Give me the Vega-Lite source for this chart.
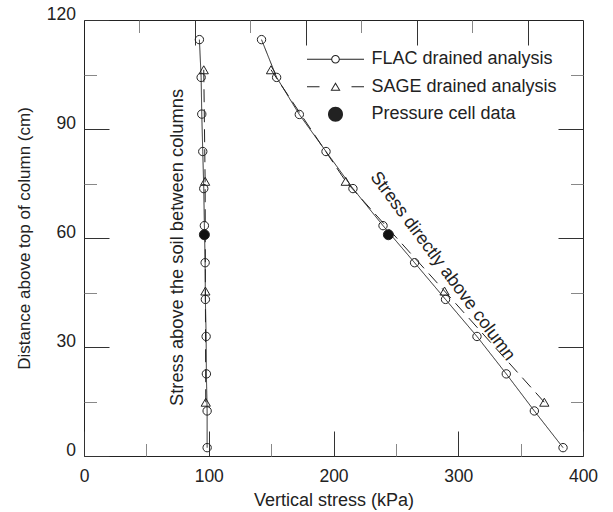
{
  "$schema": "https://vega.github.io/schema/vega-lite/v6.json",
  "width": 499,
  "height": 436,
  "autosize": {"type": "none"},
  "padding": {"left": 84, "top": 20, "right": 30, "bottom": 56},
  "background": "white",
  "datasets": {
    "stress": [
      {"series": "FLAC drained analysis", "location": "between", "stress": 92.5, "distance": 114.6},
      {"series": "FLAC drained analysis", "location": "between", "stress": 93.9, "distance": 104.2},
      {"series": "FLAC drained analysis", "location": "between", "stress": 94.4, "distance": 94.1},
      {"series": "FLAC drained analysis", "location": "between", "stress": 95.2, "distance": 83.8},
      {"series": "FLAC drained analysis", "location": "between", "stress": 96.0, "distance": 73.6},
      {"series": "FLAC drained analysis", "location": "between", "stress": 96.5, "distance": 63.4},
      {"series": "FLAC drained analysis", "location": "between", "stress": 97.1, "distance": 53.2},
      {"series": "FLAC drained analysis", "location": "between", "stress": 97.3, "distance": 43.1},
      {"series": "FLAC drained analysis", "location": "between", "stress": 97.9, "distance": 32.9},
      {"series": "FLAC drained analysis", "location": "between", "stress": 98.1, "distance": 22.6},
      {"series": "FLAC drained analysis", "location": "between", "stress": 98.7, "distance": 12.4},
      {"series": "FLAC drained analysis", "location": "between", "stress": 98.7, "distance": 2.3},
      {"series": "SAGE drained analysis", "location": "between", "stress": 96.0, "distance": 106.3},
      {"series": "SAGE drained analysis", "location": "between", "stress": 97.1, "distance": 75.6},
      {"series": "SAGE drained analysis", "location": "between", "stress": 97.3, "distance": 45.4},
      {"series": "SAGE drained analysis", "location": "between", "stress": 97.6, "distance": 14.8},
      {"series": "FLAC drained analysis", "location": "above", "stress": 142.3, "distance": 114.6},
      {"series": "FLAC drained analysis", "location": "above", "stress": 154.4, "distance": 104.2},
      {"series": "FLAC drained analysis", "location": "above", "stress": 172.6, "distance": 94.0},
      {"series": "FLAC drained analysis", "location": "above", "stress": 194.0, "distance": 83.8},
      {"series": "FLAC drained analysis", "location": "above", "stress": 215.6, "distance": 73.6},
      {"series": "FLAC drained analysis", "location": "above", "stress": 239.7, "distance": 63.4},
      {"series": "FLAC drained analysis", "location": "above", "stress": 265.0, "distance": 53.2},
      {"series": "FLAC drained analysis", "location": "above", "stress": 289.8, "distance": 43.1},
      {"series": "FLAC drained analysis", "location": "above", "stress": 315.0, "distance": 32.9},
      {"series": "FLAC drained analysis", "location": "above", "stress": 338.5, "distance": 22.6},
      {"series": "FLAC drained analysis", "location": "above", "stress": 361.0, "distance": 12.4},
      {"series": "FLAC drained analysis", "location": "above", "stress": 384.0, "distance": 2.3},
      {"series": "SAGE drained analysis", "location": "above", "stress": 149.9, "distance": 106.3},
      {"series": "SAGE drained analysis", "location": "above", "stress": 209.8, "distance": 75.6},
      {"series": "SAGE drained analysis", "location": "above", "stress": 289.0, "distance": 45.4},
      {"series": "SAGE drained analysis", "location": "above", "stress": 369.0, "distance": 14.8},
      {"series": "Pressure cell data", "location": "between", "stress": 96.5, "distance": 60.9},
      {"series": "Pressure cell data", "location": "above", "stress": 244.0, "distance": 60.9}
    ],
    "notes": [
      {"kind": "soil", "note": "Stress above the soil between columns", "stress": 75.4, "distance": 57.4},
      {"kind": "column", "note": "Stress directly above column", "stress": 287.2, "distance": 52.2}
    ]
  },
  "resolve": {
    "axis": {"x": "independent", "y": "independent"},
    "scale": {"shape": "independent"}
  },
  "layer": [
    {
      "data": {"name": "stress"},
      "transform": [{"filter": "datum.series !== 'Pressure cell data'"}],
      "mark": {"type": "line", "stroke": "#222", "strokeWidth": 1},
      "encoding": {
        "x": {
          "field": "stress", "type": "quantitative",
          "scale": {"domain": [0, 400], "nice": false},
          "axis": {
            "orient": "bottom",
            "title": "Vertical stress (kPa)",
            "values": [0, 50, 100, 150, 200, 250, 300, 350, 400],
            "labelExpr": "datum.value % 100 === 0 ? datum.label : ''",
            "labelFlush": false, "labelOverlap": false,
            "tickSize": -25, "labelPadding": 36,
            "titlePadding": 7,
            "tickDash": {"condition": {"test": "datum.value % 100 !== 0", "value": [12.5, 40]}, "value": []},
            "tickColor": {"condition": {"test": "datum.value % 100 === 0", "value": "#333"}, "value": "#888"}
          }
        },
        "y": {
          "field": "distance", "type": "quantitative",
          "scale": {"domain": [0, 120], "nice": false},
          "axis": {
            "orient": "left",
            "title": "Distance above top of column (cm)",
            "values": [0, 15, 30, 45, 60, 75, 90, 105, 120],
            "labelExpr": "datum.value % 30 === 0 ? datum.label : ''",
            "labelFlush": false, "labelOverlap": false,
            "labelBaseline": "alphabetic", "labelOffset": -1,
            "tickSize": -25, "labelPadding": 33.5,
            "titleFontSize": 17,
            "titleX": -60, "titleY": 218, "titleAngle": 270,
            "titleAlign": "center", "titleBaseline": "middle",
            "tickDash": {"condition": {"test": "datum.value % 30 !== 0", "value": [12.5, 40]}, "value": []},
            "tickColor": {"condition": {"test": "datum.value % 30 === 0", "value": "#333"}, "value": "#888"}
          }
        },
        "strokeDash": {
          "field": "series", "type": "nominal",
          "scale": {"domain": ["FLAC drained analysis", "SAGE drained analysis"], "range": [[1, 0], [13, 7]]},
          "legend": null
        },
        "detail": {"field": "location"},
        "order": {"field": "distance", "type": "quantitative"}
      }
    },
    {
      "data": {"name": "stress"},
      "mark": {"type": "point", "stroke": "#222", "strokeWidth": 1, "opacity": 1},
      "encoding": {
        "x": {
          "field": "stress", "type": "quantitative",
          "scale": {"domain": [0, 400], "nice": false},
          "axis": {
            "orient": "top", "title": null, "labels": false,
            "values": [44.444, 88.889, 133.333, 177.778, 222.222, 266.667, 311.111, 355.556],
            "tickSize": -25,
            "tickDash": {"condition": {"test": "round(datum.value * 9 / 400) % 2 === 1", "value": [12.5, 40]}, "value": []},
            "tickColor": {"condition": {"test": "round(datum.value * 9 / 400) % 2 === 0", "value": "#333"}, "value": "#888"}
          }
        },
        "y": {
          "field": "distance", "type": "quantitative",
          "scale": {"domain": [0, 120], "nice": false},
          "axis": {
            "orient": "right", "title": null, "labels": false,
            "values": [15, 30, 45, 60, 75, 90, 105],
            "tickSize": -25,
            "tickDash": {"condition": {"test": "datum.value % 30 !== 0", "value": [12.5, 40]}, "value": []},
            "tickColor": {"condition": {"test": "datum.value % 30 === 0", "value": "#333"}, "value": "#888"}
          }
        },
        "shape": {
          "field": "series", "type": "nominal",
          "scale": {"domain": ["FLAC drained analysis", "SAGE drained analysis", "Pressure cell data"], "range": ["circle", "triangle-up", "circle"]},
          "legend": null
        },
        "fill": {
          "field": "series", "type": "nominal",
          "scale": {"domain": ["FLAC drained analysis", "SAGE drained analysis", "Pressure cell data"], "range": ["transparent", "transparent", "#111"]},
          "legend": null
        },
        "size": {
          "field": "series", "type": "nominal",
          "scale": {"domain": ["FLAC drained analysis", "SAGE drained analysis", "Pressure cell data"], "range": [70, 100, 225]},
          "legend": null
        }
      }
    },
    {
      "data": {"name": "stress"},
      "transform": [{"filter": "false"}],
      "mark": {"type": "point", "filled": true, "fill": "#222", "strokeWidth": 0},
      "encoding": {
        "x": {"field": "stress", "type": "quantitative", "scale": {"domain": [0, 400], "nice": false}, "axis": null},
        "y": {"field": "distance", "type": "quantitative", "scale": {"domain": [0, 120], "nice": false}, "axis": null},
        "shape": {
          "field": "series", "type": "nominal",
          "scale": {
            "domain": ["FLAC drained analysis", "SAGE drained analysis", "Pressure cell data"],
            "range": [
              "M-5.7,-0.1L-0.8,-0.1L-0.8,0.1L-5.7,0.1ZM0.8,-0.1L5.7,-0.1L5.7,0.1L0.8,0.1ZM0.86,0C0.86,0.475,0.475,0.86,0,0.86C-0.475,0.86,-0.86,0.475,-0.86,0C-0.86,-0.475,-0.475,-0.86,0,-0.86C0.475,-0.86,0.86,-0.475,0.86,0ZM0.66,0C0.66,-0.3645,0.3645,-0.66,0,-0.66C-0.3645,-0.66,-0.66,-0.3645,-0.66,0C-0.66,0.3645,-0.3645,0.66,0,0.66C0.3645,0.66,0.66,0.3645,0.66,0Z",
              "M-5.7,-0.1L-3.2,-0.1L-3.2,0.1L-5.7,0.1ZM3.2,-0.1L5.7,-0.1L5.7,0.1L3.2,0.1ZM0,-0.9L1,0.8L-1,0.8ZM0,-0.52L-0.66,0.6L0.66,0.6Z",
              "M1.5,0C1.5,0.83,0.83,1.5,0,1.5C-0.83,1.5,-1.5,0.83,-1.5,0C-1.5,-0.83,-0.83,-1.5,0,-1.5C0.83,-1.5,1.5,-0.83,1.5,0Z"
            ]
          },
          "legend": {
            "orient": "none", "legendX": 242.5, "legendY": 30.3,
            "title": null, "padding": 0,
            "labelFont": "Liberation Sans", "labelFontSize": 18, "labelColor": "#222", "labelLimit": 400,
            "labelOffset": 27, "rowPadding": 9.5, "symbolSize": 100,
            "symbolFillColor": "#222", "symbolStrokeWidth": 0, "symbolOpacity": 1
          }
        }
      }
    },
    {
      "data": {"name": "notes"},
      "transform": [{"filter": "datum.kind === 'soil'"}],
      "mark": {"type": "text", "angle": 270, "align": "center", "baseline": "middle", "font": "Liberation Sans", "fontSize": 18.3, "fill": "#222"},
      "encoding": {
        "x": {"field": "stress", "type": "quantitative", "scale": {"domain": [0, 400], "nice": false}, "axis": null},
        "y": {"field": "distance", "type": "quantitative", "scale": {"domain": [0, 120], "nice": false}, "axis": null},
        "text": {"field": "note"}
      }
    },
    {
      "data": {"name": "notes"},
      "transform": [{"filter": "datum.kind === 'column'"}],
      "mark": {"type": "text", "angle": 53.4, "align": "center", "baseline": "middle", "font": "Liberation Sans", "fontSize": 18, "fill": "#222"},
      "encoding": {
        "x": {"field": "stress", "type": "quantitative", "scale": {"domain": [0, 400], "nice": false}, "axis": null},
        "y": {"field": "distance", "type": "quantitative", "scale": {"domain": [0, 120], "nice": false}, "axis": null},
        "text": {"field": "note"}
      }
    }
  ],
  "config": {
    "view": {"stroke": "#222", "strokeWidth": 1},
    "font": "Liberation Sans",
    "axis": {
      "domain": false, "grid": false,
      "labelFont": "Liberation Sans", "titleFont": "Liberation Sans",
      "labelColor": "#222", "titleColor": "#222",
      "labelFontSize": 17.5, "titleFontSize": 18, "titleFontWeight": "normal"
    }
  }
}
